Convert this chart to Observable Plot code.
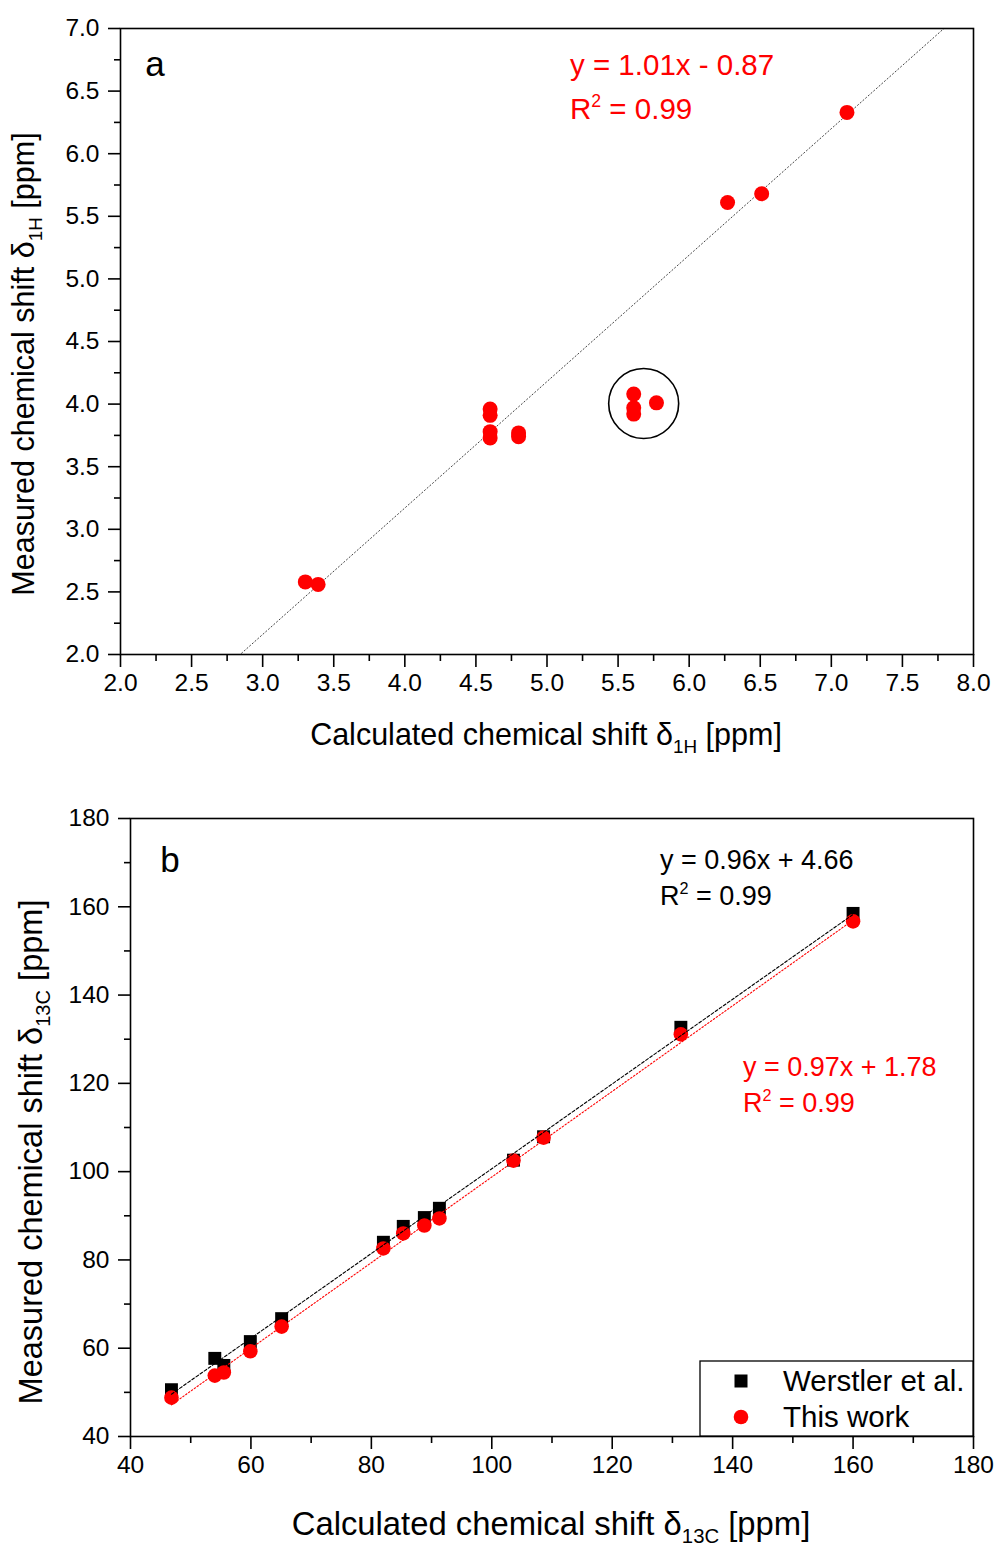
<!DOCTYPE html>
<html>
<head>
<meta charset="utf-8">
<script src="https://cdn.jsdelivr.net/npm/d3@7"></script>
<script src="https://cdn.jsdelivr.net/npm/@observablehq/plot@0.6"></script>
<style>
  html, body { margin: 0; padding: 0; background: white; }
  #wrap { width: 995px; }
  svg { display: block; }
</style>
</head>
<body>
<div id="wrap"></div>
<script>
// ---------- Panel a data (1H) ----------
const aCalc = [3.30, 3.39, 4.60, 4.60, 4.60, 4.60, 4.80, 4.80, 5.61, 5.61, 5.61, 5.77, 6.27, 6.51, 7.11];
const aMeas = [2.58, 2.56, 3.96, 3.91, 3.78, 3.73, 3.77, 3.74, 4.08, 3.97, 3.92, 4.01, 5.61, 5.68, 6.33];
const aFit = {slope: 1.01, intercept: -0.87, r2: "0.99"};
const aHighlight = [{x: 5.68, y: 4.005}];
const aTicks = [2.0, 2.5, 3.0, 3.5, 4.0, 4.5, 5.0, 5.5, 6.0, 6.5, 7.0, 7.5, 8.0];
const aYTicks = [2.0, 2.5, 3.0, 3.5, 4.0, 4.5, 5.0, 5.5, 6.0, 6.5, 7.0];
const aMinorX = [2.25, 2.75, 3.25, 3.75, 4.25, 4.75, 5.25, 5.75, 6.25, 6.75, 7.25, 7.75];
const aMinorY = [2.25, 2.75, 3.25, 3.75, 4.25, 4.75, 5.25, 5.75, 6.25, 6.75];

// ---------- Panel b data (13C) ----------
const bCalc     = [46.8, 54.0, 55.5, 59.9, 65.1, 82.0, 85.3, 88.8, 91.3, 103.6, 108.6, 131.4, 160.0];
const werstler  = [50.6, 57.7, 56.1, 61.5, 66.7, 84.0, 87.6, 89.6, 91.7, 102.6, 107.9, 132.7, 158.5];
const thisWork  = [48.8, 53.8, 54.5, 59.3, 64.9, 82.6, 86.0, 87.8, 89.4, 102.5, 107.7, 131.1, 156.7];
const bFitW = {slope: 0.96, intercept: 4.66, r2: "0.99"};
const bFitT = {slope: 0.97, intercept: 1.78, r2: "0.99"};
const bTicks = [40, 60, 80, 100, 120, 140, 160, 180];
const bMinor = [50, 70, 90, 110, 130, 150, 170];
const seriesNames = ["Werstler et al.", "This work"];

const FONT = "'Liberation Sans', Arial, Helvetica, sans-serif";
const TICKFS = 24.5;
const wrap = document.getElementById("wrap");

// ---------- Panel a ----------
const aPts = aCalc.map((x, i) => ({x, y: aMeas[i]}));
const aLine = [2, 8].map(x => ({x, y: aFit.slope * x + aFit.intercept}));

const plotA = Plot.plot({
  width: 995, height: 775,
  marginLeft: 120, marginRight: 22, marginTop: 28, marginBottom: 121,
  x: {domain: [2, 8]},
  y: {domain: [2, 7]},
  style: {fontFamily: FONT, fontSize: TICKFS + "px", color: "black", background: "white"},
  marks: [
    Plot.line(aLine, {x: "x", y: "y", stroke: "#444", strokeWidth: 1, strokeDasharray: "1.2,2.4", clip: true}),
    Plot.dot(aPts, {x: "x", y: "y", r: 7.5, fill: "#ff0000", stroke: "none"}),
    Plot.dot(aHighlight, {x: "x", y: "y", r: 35, fill: "none", stroke: "black", strokeWidth: 1.6}),
    Plot.frame({stroke: "black", strokeWidth: 1.6}),
    Plot.axisX({ticks: aTicks, tickSize: 13, tickPadding: 6, strokeWidth: 1.6, fontSize: TICKFS, tickFormat: d => d.toFixed(1), label: null}),
    Plot.axisX({ticks: aMinorX, tickSize: 7, strokeWidth: 1.6, tickFormat: () => "", label: null}),
    Plot.axisY({ticks: aYTicks, tickSize: 12, tickPadding: 9, strokeWidth: 1.6, fontSize: TICKFS, tickFormat: d => d.toFixed(1), label: null}),
    Plot.axisY({ticks: aMinorY, tickSize: 6, strokeWidth: 1.6, tickFormat: () => "", label: null})
  ]
});
wrap.appendChild(plotA);

// ---------- Panel b ----------
const bW = bCalc.map((x, i) => ({x, y: werstler[i], s: seriesNames[0]}));
const bT = bCalc.map((x, i) => ({x, y: thisWork[i], s: seriesNames[1]}));
const xMin = d3.min(bCalc), xMax = d3.max(bCalc);
const bLineW = [xMin, xMax].map(x => ({x, y: bFitW.slope * x + bFitW.intercept}));
const bLineT = [xMin, xMax].map(x => ({x, y: bFitT.slope * x + bFitT.intercept}));

const plotB = Plot.plot({
  width: 995, height: 773,
  marginLeft: 130, marginRight: 22, marginTop: 43, marginBottom: 112,
  x: {domain: [40, 180]},
  y: {domain: [40, 180]},
  style: {fontFamily: FONT, fontSize: TICKFS + "px", color: "black", background: "white"},
  marks: [
    Plot.dot(bW, {x: "x", y: "y", r: 7.3, symbol: "square", fill: "black", stroke: "none"}),
    Plot.dot(bT, {x: "x", y: "y", r: 7.3, fill: "#ff0000", stroke: "none"}),
    Plot.line(bLineW, {x: "x", y: "y", stroke: "black", strokeWidth: 1.1, strokeDasharray: "3,2"}),
    Plot.line(bLineT, {x: "x", y: "y", stroke: "#ff0000", strokeWidth: 1.1, strokeDasharray: "1.5,2"}),
    Plot.frame({stroke: "black", strokeWidth: 1.6}),
    Plot.axisX({ticks: bTicks, tickSize: 13, tickPadding: 6, strokeWidth: 1.6, fontSize: TICKFS, tickFormat: d => d, label: null}),
    Plot.axisX({ticks: bMinor, tickSize: 7, strokeWidth: 1.6, tickFormat: () => "", label: null}),
    Plot.axisY({ticks: bTicks, tickSize: 12, tickPadding: 9, strokeWidth: 1.6, fontSize: TICKFS, tickFormat: d => d, label: null}),
    Plot.axisY({ticks: bMinor, tickSize: 6, strokeWidth: 1.6, tickFormat: () => "", label: null})
  ]
});
wrap.appendChild(plotB);

// ---------- Text helpers ----------
function subLabel(svg, x, y, main, sub, tail, size, rotate) {
  const t = d3.select(svg).append("text")
    .attr("font-family", FONT).attr("font-size", size).attr("fill", "black")
    .attr("text-anchor", "middle");
  if (rotate) t.attr("transform", `translate(${x},${y}) rotate(-90)`);
  else t.attr("x", x).attr("y", y);
  t.append("tspan").text(main);
  t.append("tspan").attr("font-size", size * 0.62).attr("dy", size * 0.25).text(sub);
  t.append("tspan").attr("dy", -size * 0.25).text(tail);
}
function eqn(svg, x, y, color, fit, size, gap) {
  const s = d3.select(svg);
  const sign = fit.intercept < 0 ? "-" : "+";
  s.append("text").attr("x", x).attr("y", y).attr("font-family", FONT).attr("font-size", size)
    .attr("text-anchor", "start")
    .attr("fill", color).text(`y = ${fit.slope.toFixed(2)}x ${sign} ${Math.abs(fit.intercept).toFixed(2)}`);
  const t = s.append("text").attr("x", x).attr("y", y + gap).attr("font-family", FONT)
    .attr("text-anchor", "start")
    .attr("font-size", size).attr("fill", color);
  t.append("tspan").text("R");
  t.append("tspan").attr("font-size", size * 0.6).attr("dy", -size * 0.42).text("2");
  t.append("tspan").attr("dy", size * 0.42).text(` = ${fit.r2}`);
}

// Panel a texts
subLabel(plotA, 546, 745, "Calculated chemical shift δ", "1H", " [ppm]", 30.5, false);
subLabel(plotA, 34, 364, "Measured chemical shift δ", "1H", " [ppm]", 30.5, true);
d3.select(plotA).append("text").attr("x", 155).attr("y", 76).attr("text-anchor", "middle")
  .attr("font-family", FONT).attr("font-size", 35).text("a");
eqn(plotA, 570, 75, "#ff0000", aFit, 29.5, 44);

// Panel b texts
subLabel(plotB, 551, 760, "Calculated chemical shift δ", "13C", " [ppm]", 32.8, false);
subLabel(plotB, 42, 377, "Measured chemical shift δ", "13C", " [ppm]", 32.5, true);
d3.select(plotB).append("text").attr("x", 170).attr("y", 97).attr("text-anchor", "middle")
  .attr("font-family", FONT).attr("font-size", 35).text("b");
eqn(plotB, 660, 94, "black", bFitW, 27, 36);
eqn(plotB, 743, 301, "#ff0000", bFitT, 27, 36);

// Legend (panel b, bottom-right inside frame)
const lg = d3.select(plotB).append("g");
lg.append("rect").attr("x", 700).attr("y", 586).attr("width", 273).attr("height", 75)
  .attr("fill", "white").attr("stroke", "black").attr("stroke-width", 1.3);
lg.append("rect").attr("x", 734.5).attr("y", 599.5).attr("width", 13).attr("height", 13).attr("fill", "black");
lg.append("circle").attr("cx", 741).attr("cy", 642).attr("r", 7.3).attr("fill", "#ff0000");
lg.append("text").attr("x", 783).attr("y", 616).attr("text-anchor", "start").attr("font-family", FONT).attr("font-size", 29.5).text(seriesNames[0]);
lg.append("text").attr("x", 783).attr("y", 652).attr("text-anchor", "start").attr("font-family", FONT).attr("font-size", 29.5).text(seriesNames[1]);
</script>
</body>
</html>
